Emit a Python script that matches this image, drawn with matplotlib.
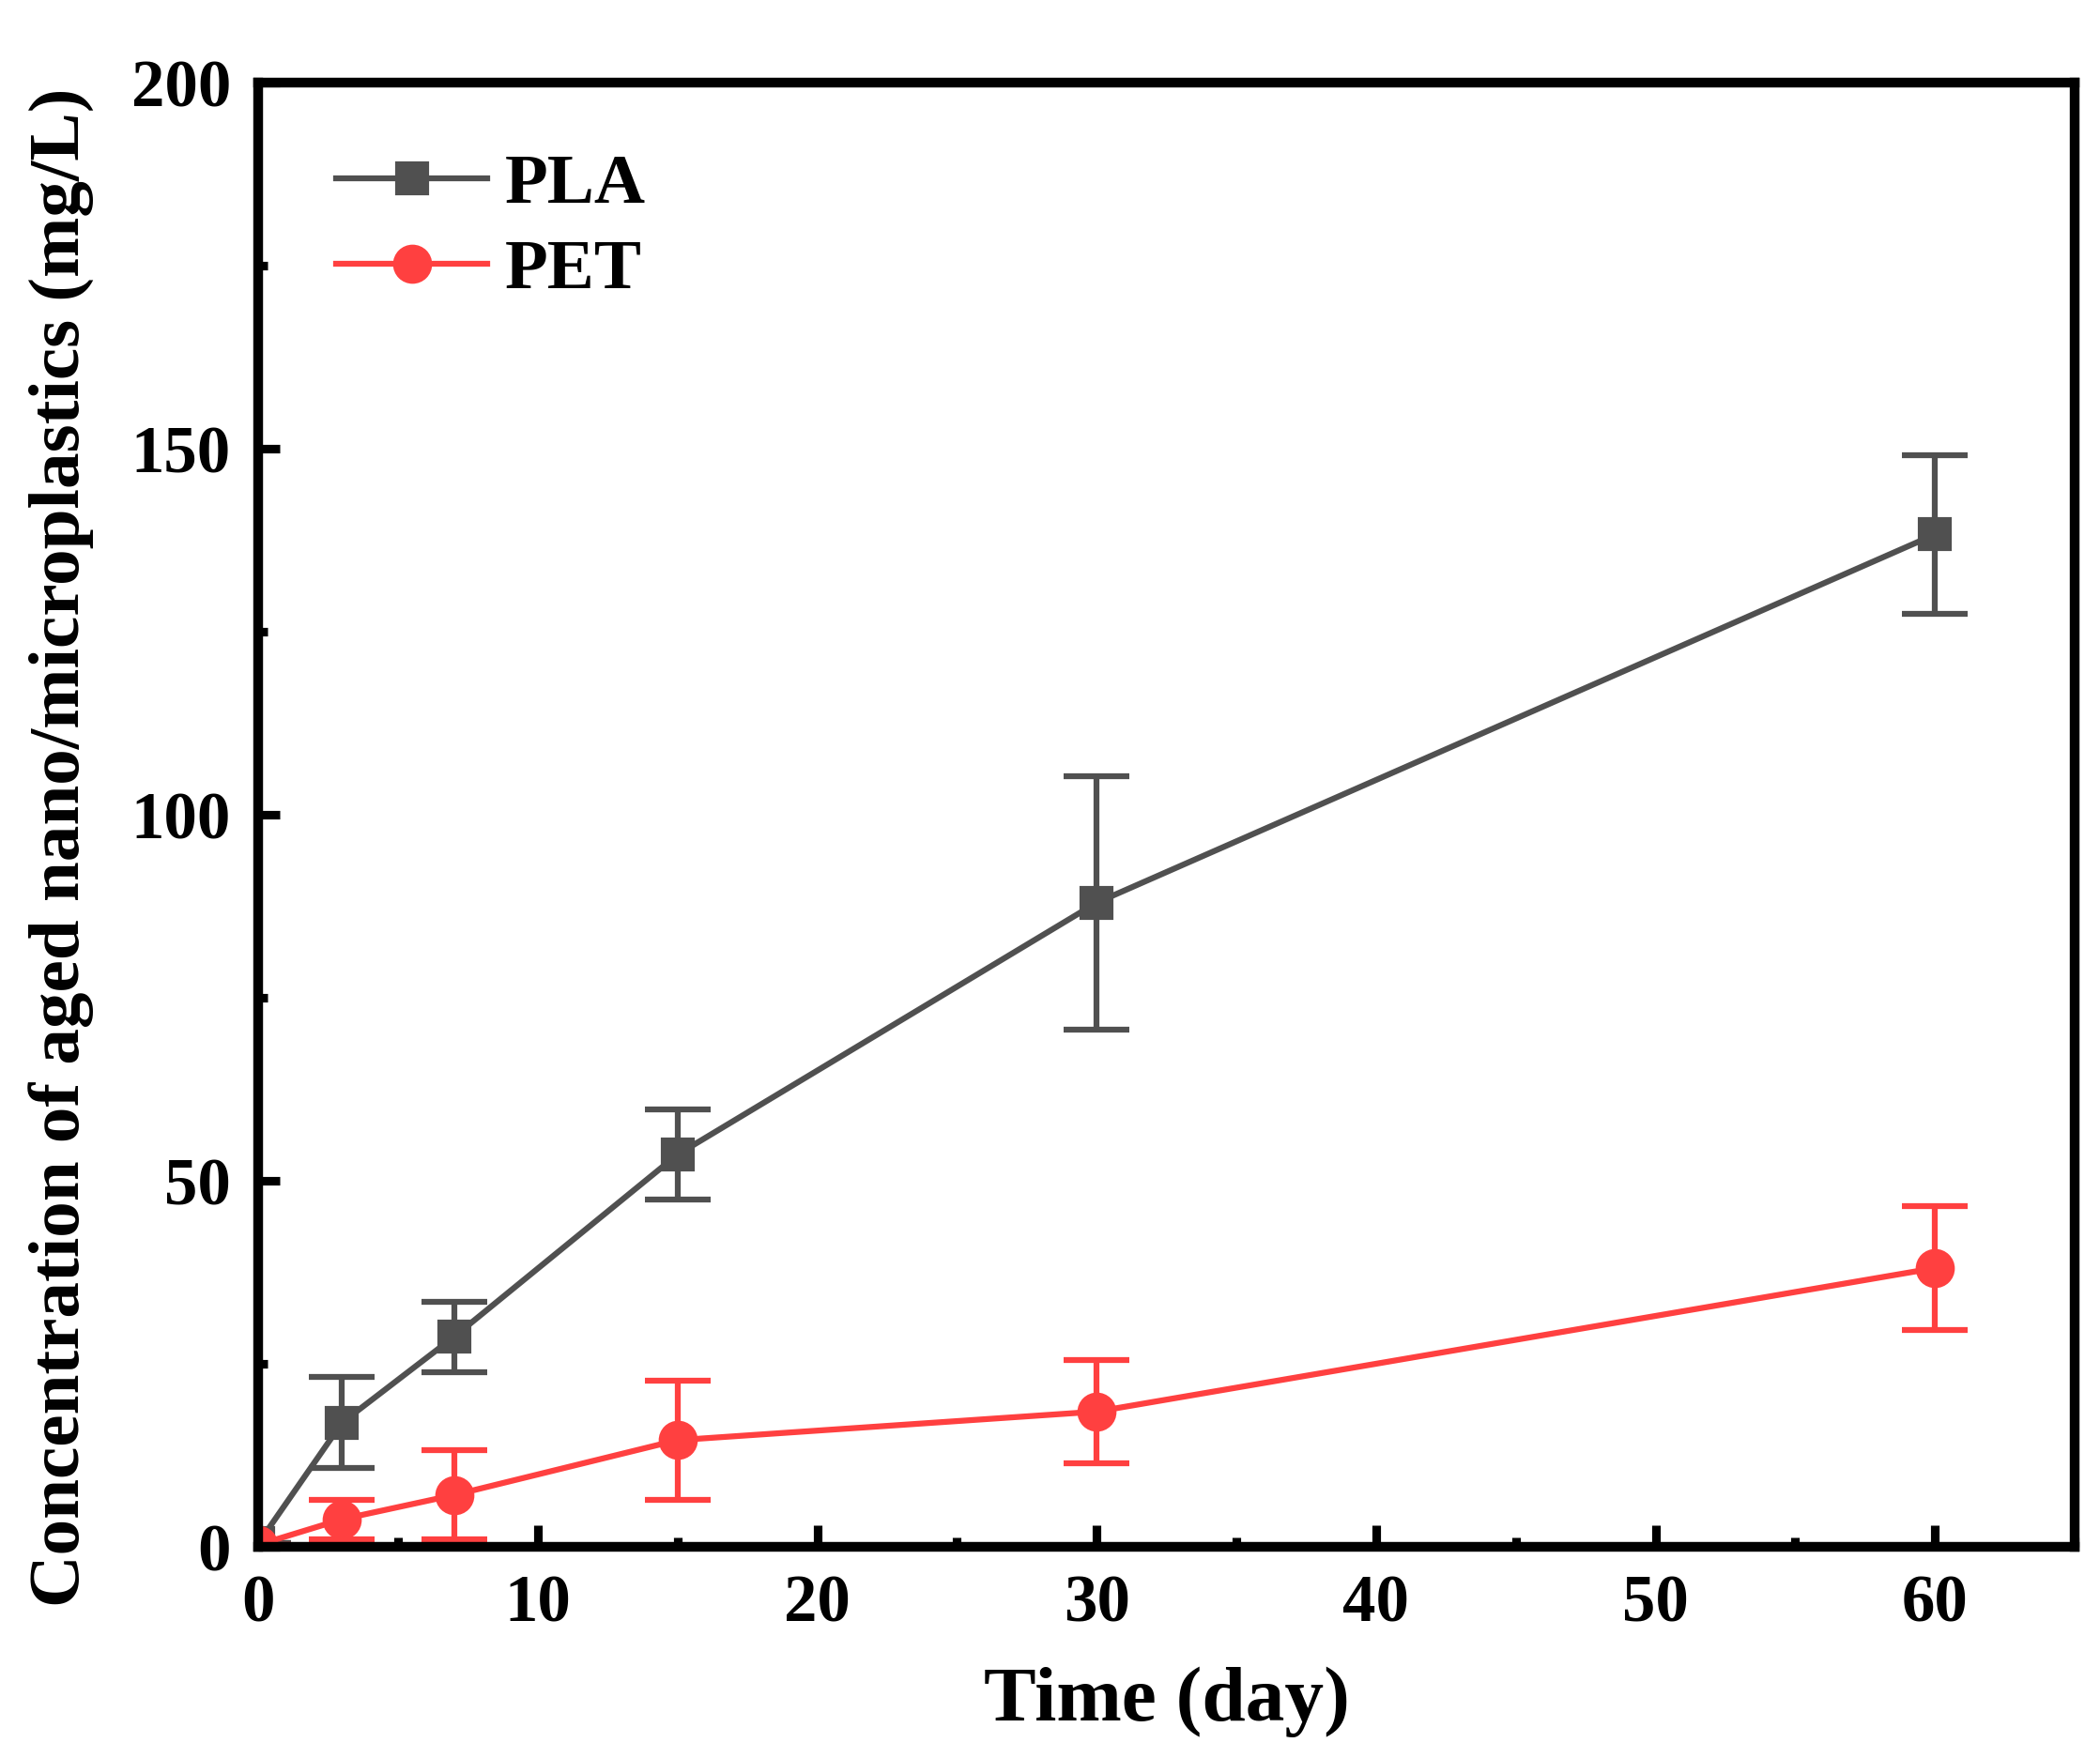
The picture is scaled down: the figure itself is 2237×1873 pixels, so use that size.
import matplotlib
matplotlib.use("Agg")
import matplotlib.pyplot as plt
from matplotlib.ticker import MultipleLocator

# data
days = [0, 3, 7, 15, 30, 60]
pla = [0.5, 17.0, 28.7, 53.6, 88.0, 138.3]
pla_err = [0, 6.2, 4.8, 6.2, 17.3, 10.8]
pet = [0.3, 3.8, 7.1, 14.6, 18.5, 38.1]
pet_err = [0, 2.7, 6.1, 8.1, 7.1, 8.4]

plt.rcParams['font.family'] = ['Liberation Serif', 'DejaVu Serif']
plt.rcParams['font.weight'] = 'bold'

fig = plt.figure(figsize=(2237 / 300, 1873 / 300), dpi=300)
ax = fig.add_axes([0.123, 0.120, 0.865, 0.833])

c1 = ax.errorbar(days, pla, yerr=pla_err, color='#505050', marker='s', markersize=7.8,
                 linewidth=1.5, elinewidth=1.5, capsize=8.5, capthick=1.5, label='PLA')
c2 = ax.errorbar(days, pet, yerr=pet_err, color='#FF4040', marker='o', markersize=9,
                 linewidth=1.5, elinewidth=1.5, capsize=8.5, capthick=1.5, label='PET')

ax.set_xlim(0, 65)
ax.set_ylim(0, 200)
ax.xaxis.set_major_locator(MultipleLocator(10))
ax.xaxis.set_minor_locator(MultipleLocator(5))
ax.yaxis.set_major_locator(MultipleLocator(50))
ax.yaxis.set_minor_locator(MultipleLocator(25))
ax.tick_params(which='both', direction='in', width=2.2, labelsize=17, pad=7)
ax.tick_params(which='major', length=5.6)
ax.tick_params(which='minor', length=2.4)
for s in ax.spines.values():
    s.set_linewidth(2.5)

ax.set_xlabel('Time (day)', fontsize=20, fontweight='bold', labelpad=8)
ax.set_ylabel('Concentration of aged nano/microplastics (mg/L)', fontsize=18.5,
              fontweight='bold')
ax.yaxis.set_label_coords(-0.090, 0.478)

# legend shows only line + marker, no error bars
leg = ax.legend([c1[0], c2[0]], ['PLA', 'PET'], loc='upper left',
                bbox_to_anchor=(0.008, 0.995), frameon=False,
                fontsize=18, handlelength=2.15, handletextpad=0.25, labelspacing=0.3)
for t in leg.get_texts():
    t.set_fontweight('bold')

fig.savefig('out.png', dpi=300)
